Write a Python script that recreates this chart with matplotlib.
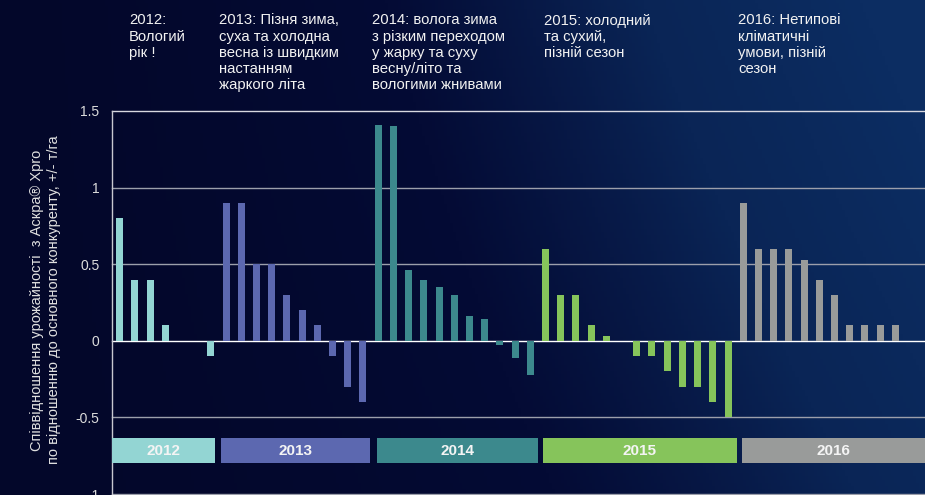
import numpy as np
import matplotlib
matplotlib.use("Agg")
import matplotlib.pyplot as plt
from matplotlib.colors import LinearSegmentedColormap

plt.rcParams['font.family'] = ['Liberation Sans', 'DejaVu Sans']

# ---------------- data ----------------
years = ["2012", "2013", "2014", "2015", "2016"]
values_2012 = [0.8, 0.4, 0.4, 0.1, 0.0, 0.0, -0.1]
values_2013 = [0.9, 0.9, 0.5, 0.5, 0.3, 0.2, 0.1, -0.1, -0.3, -0.4]
values_2014 = [1.41, 1.40, 0.46, 0.40, 0.35, 0.30, 0.16, 0.14, -0.03, -0.11, -0.22]
values_2015 = [0.6, 0.3, 0.3, 0.1, 0.03, 0.0, -0.1, -0.1, -0.2, -0.3, -0.3, -0.4, -0.5]
values_2016 = [0.9, 0.6, 0.6, 0.6, 0.53, 0.4, 0.3, 0.1, 0.1, 0.1, 0.1]
series = [values_2012, values_2013, values_2014, values_2015, values_2016]
colors = ["#93d5d3", "#5c68b0", "#3c898d", "#86c45b", "#999b9a"]
notes = [
    "2012:\nВологий\nрік !",
    "2013: Пізня зима,\nсуха та холодна\nвесна із швидким\nнастанням\nжаркого літа",
    "2014: волога зима\nз різким переходом\nу жарку та суху\nвесну/літо та\nвологими жнивами",
    "2015: холодний\nта сухий,\nпізній сезон",
    "2016: Нетипові\nкліматичні\nумови, пізній\nсезон",
]
note_x_px = [129, 219, 372, 544, 738]
yticks = [-1, -0.5, 0, 0.5, 1, 1.5]
ytick_labels = ["-1", "-0.5", "0", "0.5", "1", "1.5"]
ylabel = "Співвідношення урожайності  з Аскра® Xpro\nпо відношенню до основного конкуренту, +/- т/га"

W, H = 925, 495
fig = plt.figure(figsize=(W / 100, H / 100), dpi=100)

# background gradient
bg = fig.add_axes([0, 0, 1, 1], zorder=-10)
bg.axis("off")
nx, ny = 300, 160
gx = np.linspace(0, 1, nx)[None, :]
gy = np.linspace(0, 1, ny)[:, None]
t = np.clip(0.75 * gx ** 1.6 + 0.35 * gy * gx, 0, 1)
cmap = LinearSegmentedColormap.from_list("bg", ["#03072a", "#040b35", "#0a2556", "#0c2d62"])
bg.imshow(t, cmap=cmap, aspect="auto", origin="lower", extent=[0, 1, 0, 1], vmin=0, vmax=1)
bg.set_xlim(0, 1)
bg.set_ylim(0, 1)

ax = fig.add_axes([112 / W, 1 / H, 1 - 112 / W, (494 - 111) / H])
ax.set_facecolor("none")

# bars
idx = 0
bar_w = 0.46
ranges = []
for vals, col in zip(series, colors):
    xs = np.arange(idx, idx + len(vals))
    ax.bar(xs, vals, width=bar_w, color=col, linewidth=0, zorder=3)
    ranges.append((idx, idx + len(vals) - 1))
    idx += len(vals)

x_left = -0.5
x_right = x_left + (W - 112) / 15.21
ax.set_xlim(x_left, x_right)
ax.set_ylim(-1, 1.5)

# grid lines
for yv in yticks:
    if yv == 0:
        c, lw = "#ffffff", 1.0
    elif yv == 1.5:
        c, lw = "#d8d8e0", 1.0
    else:
        c, lw = "#9c9fab", 1.0
    ax.axhline(yv, color=c, lw=lw, zorder=2, clip_on=False)

# year bands
left_off = [0.0, 0.35, 0.09, 0.18, 0.07]
right_off = [0.3, 0.49, 0.53, 0.58, 0.0]
for k, ((a, b), col, yr) in enumerate(zip(ranges, colors, years)):
    left = x_left if k == 0 else a - left_off[k]
    right = x_right if k == len(ranges) - 1 else b + right_off[k]
    ax.fill_between([left, right], -0.80, -0.635, color=col, lw=0, zorder=3)
    ax.text((left + right) / 2, -0.7175, yr, ha="center", va="center",
            color="#f4f4f4", fontsize=11, fontweight="bold", zorder=4)

ax.set_yticks(yticks)
ax.set_yticklabels(ytick_labels)
ax.tick_params(axis="y", length=0, pad=9, labelsize=10, labelcolor="#dcdcdc")
ax.set_xticks([])
for s in ["top", "right", "bottom"]:
    ax.spines[s].set_visible(False)
ax.spines["left"].set_color("#c8c8d0")
ax.spines["left"].set_linewidth(1.0)

fig.text(45.5 / W, 1 - 300 / H, ylabel, rotation=90, ha="center", va="center",
         multialignment="center", color="#e0e0e0", fontsize=10.5, linespacing=1.2)

for txt, xp in zip(notes, note_x_px):
    fig.text(xp / W, 1 - 13.5 / H, txt, ha="left", va="top", color="#f2f2f2",
             fontsize=10.7, linespacing=1.2)

fig.savefig("out.png", dpi=100)
